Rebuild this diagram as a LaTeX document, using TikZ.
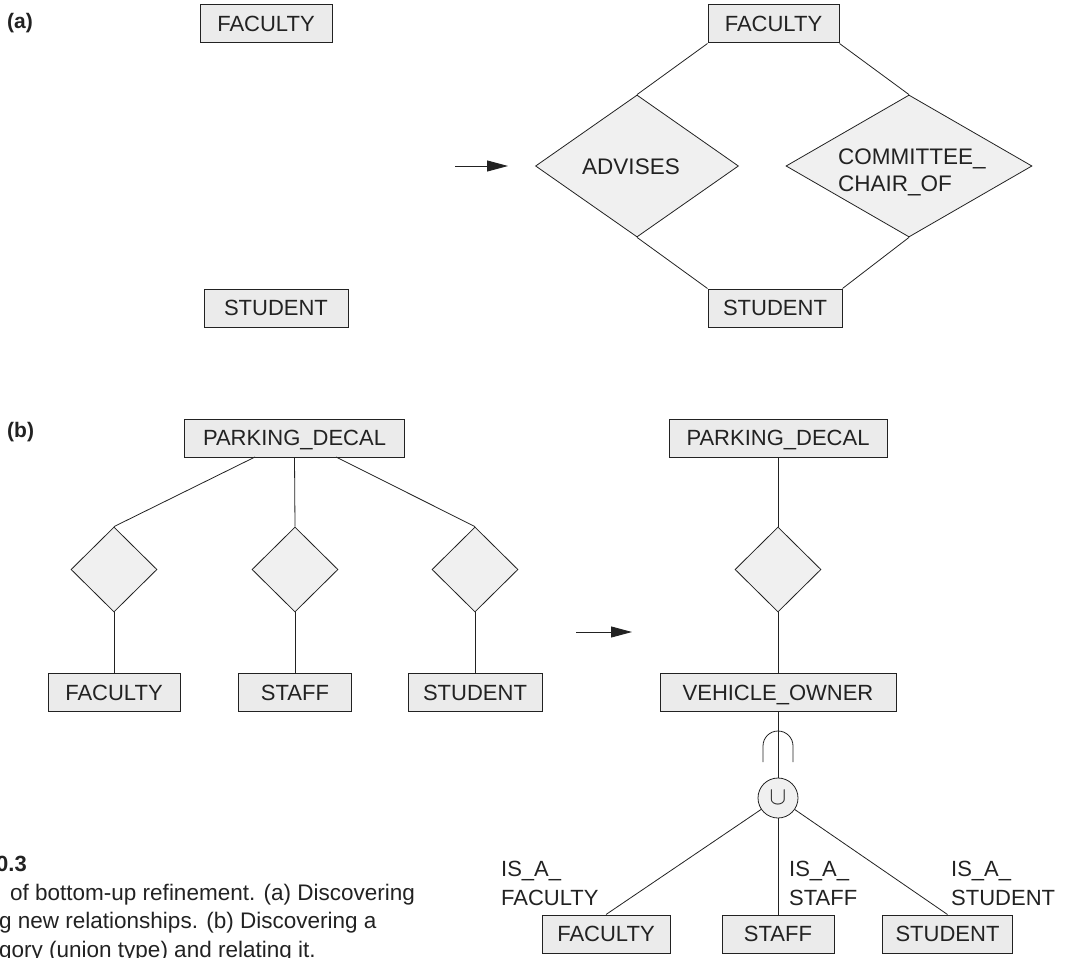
\documentclass[tikz,border=0pt]{standalone}
\usepackage{fontspec}
\setmainfont{Liberation Sans}
\usetikzlibrary{shapes.geometric,arrows.meta}
\definecolor{boxfill}{HTML}{EBEBEB}
\definecolor{relfill}{HTML}{F0F0F0}
\definecolor{ink}{HTML}{222222}
\begin{document}
\begin{tikzpicture}[x=1pt,y=-1pt,
  ent/.style={draw=ink, fill=boxfill, line width=1pt, minimum height=38pt, inner sep=0pt,
    text height=15.8pt, text depth=0pt, text=ink, font=\fontsize{22}{26}\selectfont},
  rel/.style={draw=ink, fill=relfill, line width=0.8pt, shape=diamond, inner sep=0pt},
  reltext/.style={text=ink, inner sep=0pt, align=left, font=\fontsize{22.5}{27}\selectfont},
  lbl/.style={text=ink, inner sep=0pt, align=left, font=\fontsize{22}{29}\selectfont},
  conn/.style={draw=ink, line width=0.8pt},
  bigarrow/.style={draw=ink, line width=0.9pt, -{Triangle[length=21pt,width=11pt]}},
  tag/.style={text=ink, inner sep=0pt, font=\bfseries\fontsize{21}{25}\selectfont},
  captext/.style={text=ink, inner sep=0pt, font=\fontsize{22.5}{28}\selectfont}
]
\useasboundingbox (0,0) rectangle (1072,958);
\clip (0,0) rectangle (1072,958);

% ---------------- (a) ----------------
\node[tag, anchor=west] (ta) at (7,23) {(a)};
\node[ent, minimum width=132pt] (fa1) at (266,24) {FACULTY};
\node[ent, minimum width=144pt] (st1) at (276,308) {STUDENT};

\coordinate (aa1) at (455,166);
\coordinate (aa2) at (508,166);
\draw[bigarrow] (aa1) -- (aa2);

\node[ent, minimum width=131pt] (fa2) at (773.5,24) {FACULTY};
\node[ent, minimum width=134pt] (st2) at (775,308) {STUDENT};
\node[rel, minimum width=203pt, minimum height=142pt] (adv) at (637,166) {};
\node[reltext] (advt) at (631,166.5) {ADVISES};
\node[rel, minimum width=246pt, minimum height=142pt] (com) at (909,166) {};
\node[reltext, anchor=west] (comt) at (838,172) {COMMITTEE\_\\CHAIR\_OF};

\draw[conn] (fa2.south west) -- (adv.north);
\draw[conn] (adv.south) -- (st2.north west);
\draw[conn] (fa2.south east) -- (com.north);
\draw[conn] (com.south) -- (st2.north east);

% ---------------- (b) ----------------
\node[tag, anchor=west] (tb) at (7,432) {(b)};
\node[ent, minimum width=220pt] (pd1) at (294.5,438) {PARKING\_DECAL};
\node[rel, minimum width=86pt, minimum height=85pt] (d1) at (114,569.5) {};
\node[rel, minimum width=86pt, minimum height=85pt] (d2) at (295,569.5) {};
\node[rel, minimum width=86pt, minimum height=85pt] (d3) at (475,569.5) {};
\node[ent, minimum width=132pt] (f3) at (114,692.5) {FACULTY};
\node[ent, minimum width=113pt] (s3) at (295,692.5) {STAFF};
\node[ent, minimum width=134pt] (u3) at (475,692.5) {STUDENT};

\coordinate (p1) at (255,457);
\coordinate (p3) at (336,457);
\draw[conn] (p1) -- (d1.north);
\draw[conn] (pd1.south) -- (d2.north);
\draw[conn] (p3) -- (d3.north);
\draw[conn] (d1.south) -- (f3.north);
\draw[conn] (d2.south) -- (s3.north);
\draw[conn] (d3.south) -- (u3.north);

\coordinate (ab1) at (576,632);
\coordinate (ab2) at (632,632);
\draw[bigarrow] (ab1) -- (ab2);

\node[ent, minimum width=218pt] (pd2) at (778,438) {PARKING\_DECAL};
\node[rel, minimum width=86pt, minimum height=85pt] (d4) at (778,569.5) {};
\node[ent, minimum width=236pt] (vo) at (778,692.5) {VEHICLE\_OWNER};
\node[draw=ink, fill=relfill, line width=0.8pt, circle, minimum size=40pt, inner sep=0pt,
      text=ink, font=\fontsize{27}{27}\selectfont] (un) at (778,798) {\raisebox{-1pt}{$\cup$}};
\node[ent, minimum width=128pt] (f4) at (606,934) {FACULTY};
\node[ent, minimum width=112pt] (s4) at (778,934) {STAFF};
\node[ent, minimum width=130pt] (u4) at (947.5,934) {STUDENT};

\draw[conn] (pd2.south) -- (d4.north);
\draw[conn] (d4.south) -- (vo.north);
\draw[conn] (vo.south) -- (un.north);
\draw[conn] (763,762) -- (763,746) .. controls (763,737.7) and (769.7,731) .. (778,731)
  .. controls (786.3,731) and (793,737.7) .. (793,746) -- (793,762);
\draw[conn] (un) -- (f4.north);
\draw[conn] (un.south) -- (s4.north);
\draw[conn] (un) -- (u4.north);

\node[lbl, anchor=north west] (l1) at (501,861) {IS\_A\_\\FACULTY};
\node[lbl, anchor=north west] (l2) at (789,861) {IS\_A\_\\STAFF};
\node[lbl, anchor=north west] (l3) at (951,861) {IS\_A\_\\STUDENT};

% ---------------- caption ----------------
\node[tag, anchor=base east, font=\bfseries\fontsize{22}{26}\selectfont] (c0) at (27,871) {0.3};
\node[captext, anchor=base west] (c1) at (10,900) {of bottom-up refinement. (a) Discovering};
\node[captext, anchor=base west] (c2) at (-1,928) {g new relationships. (b) Discovering a};
\node[captext, anchor=base west] (c3) at (-1,957) {gory (union type) and relating it.};
\end{tikzpicture}
\end{document}
